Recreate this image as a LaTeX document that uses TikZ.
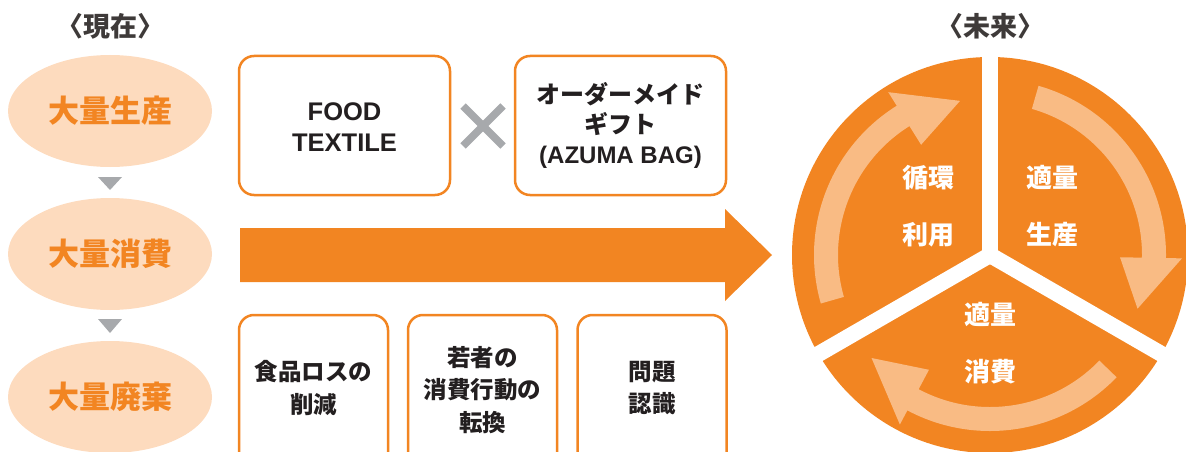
\documentclass[tikz,border=0pt]{standalone}
\usepackage{fontspec}
\setmainfont{Noto Sans CJK JP}
\newfontfamily\lat{Liberation Sans}
\usetikzlibrary{calc,shapes.geometric}
\definecolor{orng}{HTML}{F28522}
\definecolor{lorng}{HTML}{F9BB84}
\definecolor{peach}{HTML}{FDDBBE}
\definecolor{grayx}{HTML}{A7A9AC}
\definecolor{ink}{HTML}{231F20}
\definecolor{titleink}{HTML}{3E3A39}
\newcommand\cycarr[3]{%
  \fill[lorng] ($(C)+(#1:176pt)$) arc[start angle=#1,end angle=#2,radius=176pt]
    -- ($(C)+(#2:192pt)$) -- ($(C)+(#3:157pt)$) -- ($(C)+(#2:130pt)$)
    -- ($(C)+(#2:152pt)$) arc[start angle=#2,end angle=#1,radius=152pt] -- cycle;}
\begin{document}
\begin{tikzpicture}[x=1pt,y=-1pt,
  title/.style={text=titleink,font=\fontsize{27}{27}\selectfont\bfseries},
  ell/.style={ellipse,fill=peach,minimum width=204pt,minimum height=112pt,inner sep=0pt,text=orng,font=\fontsize{31}{31}\selectfont\bfseries},
  box/.style={draw=orng,line width=2.5pt,rounded corners=15pt,fill=white,minimum width=#1,inner sep=0pt},
  tbox/.style={box=211pt,minimum height=139pt},
  bbox/.style={box=149pt,minimum height=155pt},
  btxt/.style={text=ink,align=center,font=\fontsize{23.5}{32.5}\selectfont\bfseries},
  ctxt/.style={text=white,align=center,font=\fontsize{26}{57}\selectfont\bfseries},
  tri/.style={fill=grayx}]
\useasboundingbox (0,0) rectangle (1186,452);
% titles
\node[title] (now) at (110,26) {〈現在〉};
\node[title] (fut) at (990,26) {〈未来〉};
% ellipses
\node[ell] (e1) at (110,111) {大量生産};
\node[ell] (e2) at (110,254) {大量消費};
\node[ell] (e3) at (110,397) {大量廃棄};
\fill[tri] (98,177) -- (122,177) -- (110,190) -- cycle;
\fill[tri] (98,319) -- (122,319) -- (110,333) -- cycle;
% top boxes
\node[tbox] (b1) at (344.5,125.5) {};
\node[text=ink,align=center,font=\lat\fontsize{25.5}{31}\selectfont\bfseries] (t1) at (344.5,127.5) {FOOD\\TEXTILE};
\node[tbox] (b2) at (620.5,125.5) {};
\node[text=ink,align=center,font=\fontsize{24}{30}\selectfont\bfseries] (t2) at (620.5,125) {オーダーメイド\\ギフト\\{\lat (AZUMA BAG)}};
\coordinate (xc) at (483,126);
\draw[grayx,line width=7.5pt] ($(xc)+(-20,-20)$) -- ($(xc)+(20,20)$);
\draw[grayx,line width=7.5pt] ($(xc)+(-20,20)$) -- ($(xc)+(20,-20)$);
% big arrow
\fill[orng] (240,228) -- (725,228) -- (725,209) -- (772,255) -- (725,301) -- (725,282) -- (240,282) -- cycle;
% bottom boxes
\node[bbox] (c1) at (313.5,392.5) {};
\node[bbox] (c2) at (482.5,392.5) {};
\node[bbox] (c3) at (652,392.5) {};
\node[btxt] (s1) at (313.5,388) {食品ロスの\\削減};
\node[btxt] (s2) at (482.5,390) {若者の\\消費行動の\\転換};
\node[btxt] (s3) at (652,388) {問題\\認識};
% cycle circle
\coordinate (C) at (990,255);
\fill[orng] (C) circle[radius=198pt];
\draw[white,line width=16pt] (C) -- ($(C)+(90:215pt)$);
\draw[white,line width=16pt] (C) -- ($(C)+(210:215pt)$);
\draw[white,line width=16pt] (C) -- ($(C)+(330:215pt)$);
\fill[white] (C) circle[radius=9.3pt];
\cycarr{196}{122}{101}
\cycarr{74}{-1}{-20}
\cycarr{-44}{-118}{-139}
\node[ctxt] (k1) at (928,206.5) {循環\\利用};
\node[ctxt] (k2) at (1052,206.5) {適量\\生産};
\node[ctxt] (k3) at (990,343.5) {適量\\消費};
\end{tikzpicture}
\end{document}
